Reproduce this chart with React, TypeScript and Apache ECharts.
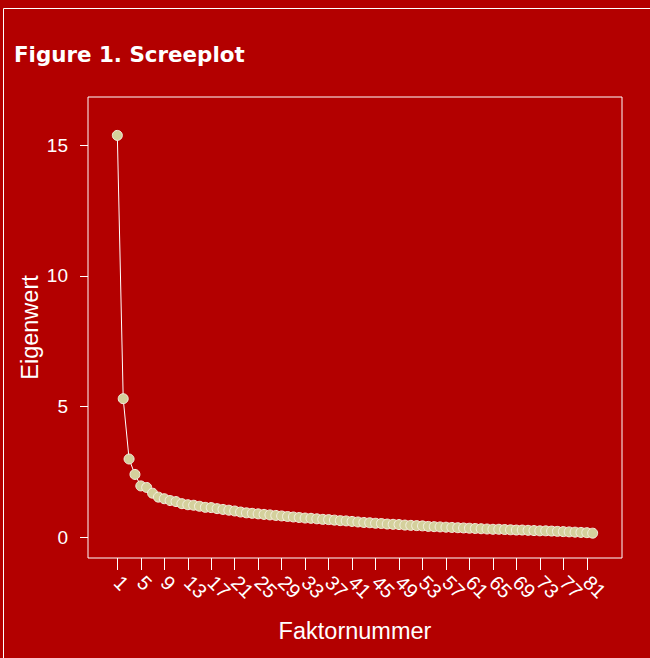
import React, { useEffect, useRef } from "react";
import * as echarts from "echarts";

const factorNumbers: number[] = Array.from({ length: 82 }, (_, i) => i + 1);
const eigenvalues: number[] = [
  15.38, 5.3, 2.99, 2.4, 1.96, 1.9, 1.68, 1.53, 1.47, 1.4,
  1.36, 1.28, 1.24, 1.22, 1.18, 1.14, 1.13, 1.09, 1.06, 1.03,
  1.0, 0.96, 0.93, 0.91, 0.89, 0.87, 0.85, 0.83, 0.81, 0.79,
  0.77, 0.75, 0.73, 0.72, 0.7, 0.68, 0.67, 0.65, 0.63, 0.62,
  0.6, 0.58, 0.56, 0.55, 0.53, 0.52, 0.5, 0.49, 0.48, 0.46,
  0.45, 0.44, 0.43, 0.41, 0.4, 0.39, 0.38, 0.37, 0.36, 0.35,
  0.34, 0.33, 0.32, 0.31, 0.3, 0.3, 0.29, 0.28, 0.27, 0.27,
  0.26, 0.25, 0.24, 0.24, 0.23, 0.22, 0.21, 0.2, 0.19, 0.18,
  0.17, 0.15,
];
const xTickValues: number[] = [1, 5, 9, 13, 17, 21, 25, 29, 33, 37, 41, 45, 49, 53, 57, 61, 65, 69, 73, 77, 81];
const yTickValues: number[] = [0, 5, 10, 15];
const titleText = "Figure 1. Screeplot";
const xAxisName = "Faktornummer";
const yAxisName = "Eigenwert";

const BG = "#b30000";
const FONT = "Liberation Sans";

export default function App() {
  const ref = useRef<HTMLDivElement>(null);
  useEffect(() => {
    if (!ref.current) return;
    const chart = echarts.init(ref.current, null, { renderer: "svg" });
    // alternate tick values across two coincident axes so ECharts' min/max label overlap check never hides one
    const ticksA = xTickValues.filter((_, i) => i % 2 === 0);
    const ticksB = xTickValues.filter((_, i) => i % 2 === 1);
    const xBase = {
      type: "value",
      min: -4,
      max: 87,
      position: "bottom",
      axisLine: { show: false, onZero: false },
      splitLine: { show: false },
    };
    const labelBase = {
      color: "#ffffff",
      fontSize: 20,
      fontFamily: FONT,
      rotate: -45,
      margin: 21,
      showMinLabel: true,
      showMaxLabel: true,
    };
    chart.setOption({
      animation: false,
      backgroundColor: BG,
      title: {
        text: titleText,
        left: 9,
        top: 39,
        textStyle: { color: "#ffffff", fontSize: 21.4, fontWeight: "bold", fontFamily: "DejaVu Sans" },
      },
      graphic: [
        {
          type: "rect",
          shape: { x: 3.5, y: 8.5, width: 700, height: 700 },
          style: { fill: "none", stroke: "#ffffff", lineWidth: 1 },
          silent: true,
        },
      ],
      grid: {
        left: 88,
        top: 97,
        right: 28,
        bottom: 100,
        show: true,
        borderColor: "#ffffff",
        borderWidth: 1,
        backgroundColor: "transparent",
      },
      xAxis: [
        {
          ...xBase,
          name: xAxisName,
          nameLocation: "middle",
          nameGap: 61,
          nameMoveOverlap: false,
          nameTextStyle: { color: "#ffffff", fontSize: 23.5, fontFamily: FONT },
          axisTick: { show: true, length: 12, lineStyle: { color: "#ffffff" }, customValues: ticksA },
          axisLabel: { ...labelBase, customValues: ticksA },
        },
        {
          ...xBase,
          axisTick: { show: true, length: 12, lineStyle: { color: "#ffffff" }, customValues: ticksB },
          axisLabel: { ...labelBase, customValues: ticksB },
        },
      ],
      yAxis: {
        type: "value",
        min: -0.8,
        max: 16.85,
        name: yAxisName,
        nameLocation: "middle",
        nameGap: 46,
        nameMoveOverlap: false,
        nameTextStyle: { color: "#ffffff", fontSize: 23.5, fontFamily: FONT },
        axisLine: { show: false, onZero: false },
        splitLine: { show: false },
        axisTick: { show: true, length: 8, lineStyle: { color: "#ffffff" }, customValues: yTickValues },
        axisLabel: { color: "#ffffff", fontSize: 19, fontFamily: FONT, margin: 20, customValues: yTickValues },
      },
      series: [
        {
          type: "line",
          xAxisIndex: 0,
          data: factorNumbers.map((f, i) => [f, eigenvalues[i]]),
          symbol: "circle",
          symbolSize: 10,
          showAllSymbol: true,
          lineStyle: { color: "#ffffff", width: 1 },
          itemStyle: { color: "#d4d09c", borderColor: "#f4f0e0", borderWidth: 1 },
        },
      ],
    });
    return () => chart.dispose();
  }, []);
  return <div ref={ref} style={{ position: "fixed", left: 0, top: 0, width: 650, height: 658 }} />;
}
